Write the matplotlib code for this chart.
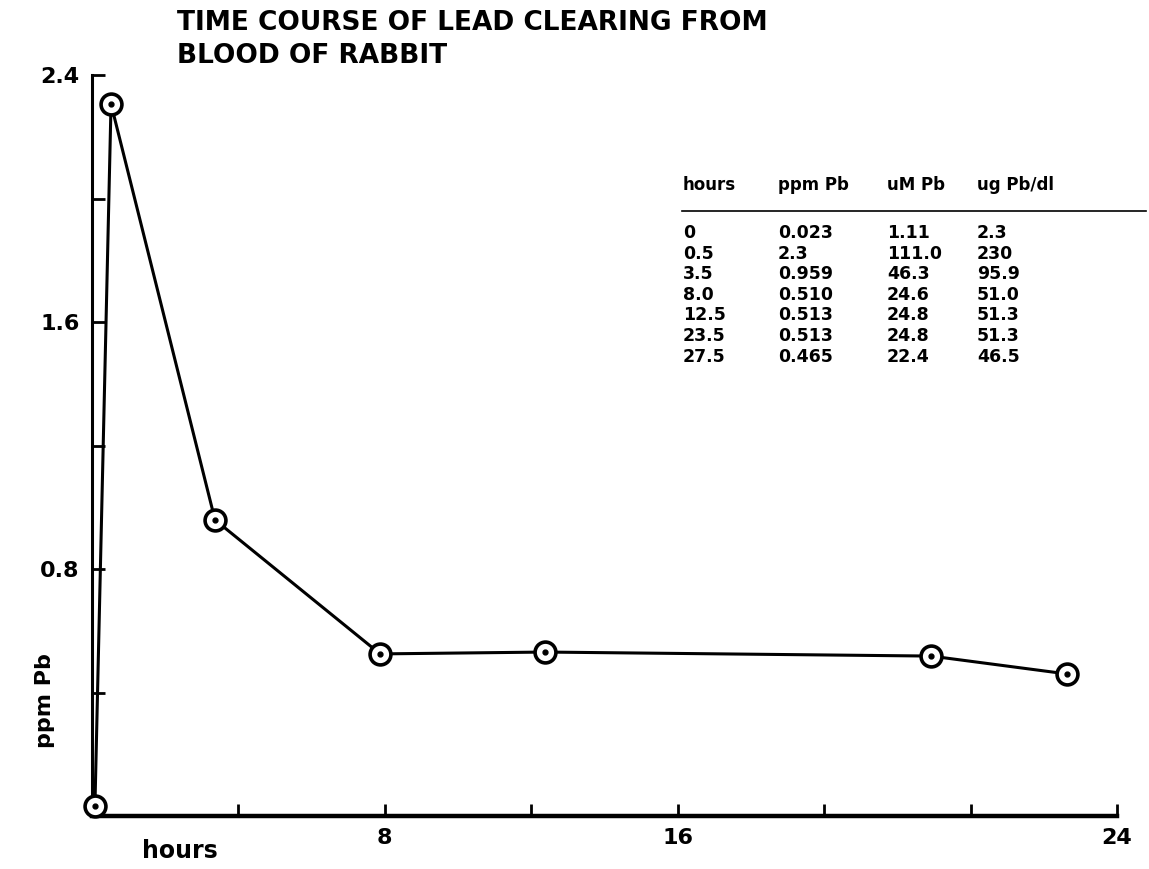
import matplotlib.pyplot as plt

# points as plotted on the sheet (hours, ppm Pb)
plot_hours = [0.08, 0.52, 3.36, 7.87, 12.38, 22.92, 26.64]
plot_ppm = [0.032, 2.306, 0.959, 0.525, 0.531, 0.518, 0.46]

# inset table
table_cols = ["hours", "ppm Pb", "uM Pb", "ug Pb/dl"]
tab_hours = ["0", "0.5", "3.5", "8.0", "12.5", "23.5", "27.5"]
tab_ppm = ["0.023", "2.3", "0.959", "0.510", "0.513", "0.513", "0.465"]
tab_um = ["1.11", "111.0", "46.3", "24.6", "24.8", "24.8", "22.4"]
tab_ug = ["2.3", "230", "95.9", "51.0", "51.3", "51.3", "46.5"]

x_major = [8, 16, 28]
x_major_labels = ["8", "16", "24"]
x_minor = [4, 12, 20, 24]
y_major = [0.8, 1.6, 2.4]
y_major_labels = ["0.8", "1.6", "2.4"]
y_minor = [0.4, 1.2, 2.0]

W, H = 1149, 869
plt.rcParams['font.family'] = ['DejaVu Sans']
plt.rcParams['font.weight'] = 'bold'

fig = plt.figure(figsize=(W / 100, H / 100), dpi=100)
ax = fig.add_axes([92 / W, 53 / H, 1025 / W, 741 / H])

ax.plot(plot_hours, plot_ppm, color='black', lw=2.2, marker='o', ms=15,
        mfc='white', mec='black', mew=2.6, clip_on=False, zorder=3)
ax.plot(plot_hours, plot_ppm, ls='none', marker='o', ms=3.5, color='black',
        clip_on=False, zorder=4)

ax.set_xlim(0, 28)
ax.set_ylim(0, 2.4)
for s in ['top', 'right']:
    ax.spines[s].set_visible(False)
ax.spines['left'].set_linewidth(2.2)
ax.spines['bottom'].set_linewidth(3.2)

ax.set_xticks(x_major)
ax.set_xticklabels(x_major_labels)
ax.set_xticks(x_minor, minor=True)
ax.set_yticks(y_major)
ax.set_yticklabels(y_major_labels)
ax.set_yticks(y_minor, minor=True)
ax.tick_params(which='both', direction='in', length=9, width=2)
ax.tick_params(axis='x', labelsize=16, pad=9)
ax.tick_params(axis='y', labelsize=16, pad=9)

# axis titles
fig.text(180 / W, 1 - 851 / H, "hours", fontsize=17, fontweight='bold',
         ha='center', va='center')
fig.text(45 / W, 1 - 701 / H, "ppm Pb", rotation=90, fontsize=16,
         fontweight='bold', ha='center', va='center')

fig.text(177 / W, 1 - 10 / H, "TIME COURSE OF LEAD CLEARING FROM\nBLOOD OF RABBIT",
         fontsize=19, fontweight='bold', ha='left', va='top', linespacing=1.35)

# table
col_x = [683, 778, 887, 977]
for cx, name in zip(col_x, table_cols):
    fig.text(cx / W, 1 - 185 / H, name, fontsize=12, ha='left', va='center')
fig.add_artist(plt.Line2D([682 / W, 1146 / W], [1 - 211 / H, 1 - 211 / H],
                          color='black', lw=1.2))
for i, row in enumerate(zip(tab_hours, tab_ppm, tab_um, tab_ug)):
    yy = 1 - (233 + 20.6 * i) / H
    for cx, val in zip(col_x, row):
        fig.text(cx / W, yy, val, fontsize=12.5, ha='left', va='center')

plt.savefig('out.png', dpi=100)
